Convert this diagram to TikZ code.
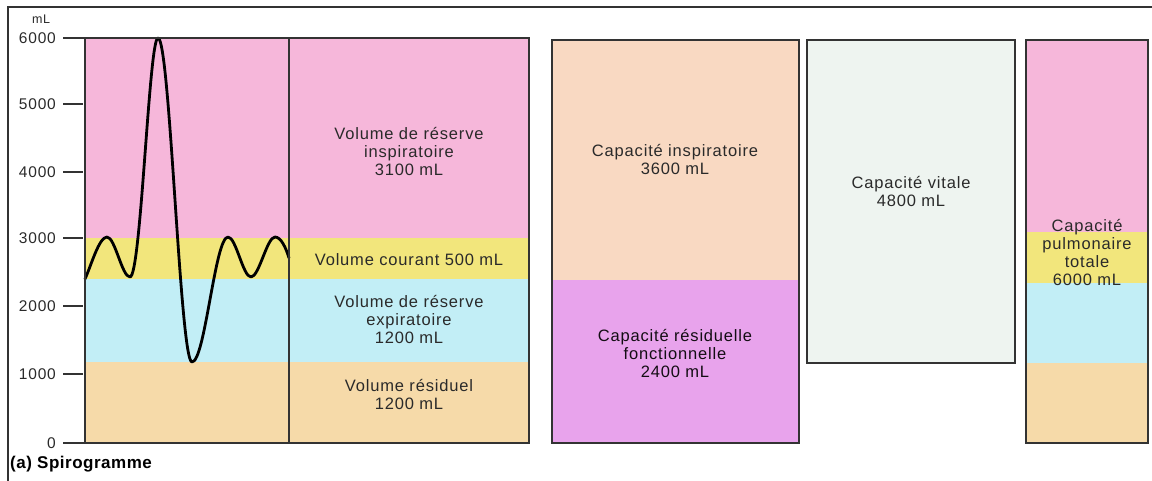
\documentclass[tikz,border=0pt]{standalone}
\usepackage{fontspec}
\setmainfont{Liberation Sans}[LetterSpace=5]
\newfontfamily\titlefont{Liberation Sans}[LetterSpace=3]
\definecolor{pinkc}{HTML}{F6B7DA}
\definecolor{yellowc}{HTML}{F2E67C}
\definecolor{bluec}{HTML}{C2EEF6}
\definecolor{tanc}{HTML}{F6DAA9}
\definecolor{peachc}{HTML}{F9D9C2}
\definecolor{violetc}{HTML}{E8A3EC}
\definecolor{palec}{HTML}{EEF4F0}
\definecolor{inkc}{HTML}{2A2A2A}
\definecolor{boxc}{HTML}{333333}
\tikzset{
  boxline/.style={draw=boxc, line width=1.6pt},
  frameline/.style={draw=boxc, line width=1.4pt},
  tickline/.style={draw=boxc, line width=1.4pt},
  lbl/.style={align=center, text=inkc, inner sep=0pt, font=\fontsize{16.5}{18}\selectfont},
  ticklbl/.style={anchor=east, text=inkc, inner sep=0pt, font=\fontsize{15.5}{17}\selectfont},
  wave/.style={draw=black, line width=2.8pt, line join=round, line cap=round}
}
\begin{document}
\begin{tikzpicture}[x=1pt, y=-1pt]
\useasboundingbox (0,0) rectangle (1152,481);
\fill[white] (0,0) rectangle (1152,481);
% frame
\draw[frameline] (8,481) -- (8,7) -- (1152,7);
% spirogram bands
\fill[pinkc] (85,38) rectangle (529,238);
\fill[yellowc] (85,238) rectangle (529,279);
\fill[bluec] (85,279) rectangle (529,362);
\fill[tanc] (85,362) rectangle (529,443);
% wave
\draw[wave] (85,279) .. controls (91,266) and (99,237) .. (107,237)
  .. controls (115,237) and (122,277) .. (130,277)
  .. controls (141,277) and (149,38) .. (158,38)
  .. controls (170,38) and (180,362) .. (192,362)
  .. controls (205,362) and (215,237) .. (228,237)
  .. controls (236,237) and (243,277) .. (251,277)
  .. controls (259,277) and (267,237) .. (275,237)
  .. controls (281,237) and (286,248) .. (289,258);
\draw[boxline] (85,38) rectangle (529,443);
\draw[boxline] (289,38) -- (289,443);
% axis
\draw[tickline] (63,38) -- (85,38);
\draw[tickline] (63,104) -- (83,104);
\draw[tickline] (63,172) -- (83,172);
\draw[tickline] (63,238) -- (83,238);
\draw[tickline] (63,306) -- (83,306);
\draw[tickline] (63,374) -- (83,374);
\draw[tickline] (63,443) -- (85,443);
\node[ticklbl] (t6) at (56,38) {6000};
\node[ticklbl] (t5) at (56,104) {5000};
\node[ticklbl] (t4) at (56,172) {4000};
\node[ticklbl] (t3) at (56,238) {3000};
\node[ticklbl] (t2) at (56,306) {2000};
\node[ticklbl] (t1) at (56,374) {1000};
\node[ticklbl] (t0) at (56,443) {0};
\node[text=inkc, inner sep=0pt, font=\fontsize{12.5}{14}\selectfont] (unit) at (41,19) {mL};
% spirogram labels
\node[lbl] (vri) at (409,152) {Volume de réserve\\inspiratoire\\3100 mL};
\node[lbl] (vc) at (409,260) {Volume courant 500 mL};
\node[lbl] (vre) at (409,320) {Volume de réserve\\expiratoire\\1200 mL};
\node[lbl] (vr) at (409,395) {Volume résiduel\\1200 mL};
% box 2
\fill[peachc] (552,40) rectangle (799,280);
\fill[violetc] (552,280) rectangle (799,443);
\draw[boxline] (552,40) rectangle (799,443);
\node[lbl] (ci) at (675,160) {Capacité inspiratoire\\3600 mL};
\node[lbl, text=black!80!violetc!40!black] (crf) at (675,354) {Capacité résiduelle\\fonctionnelle\\2400 mL};
% box 3
\fill[palec] (807,40) rectangle (1015,363);
\draw[boxline] (807,40) rectangle (1015,363);
\node[lbl] (cv) at (911,192) {Capacité vitale\\4800 mL};
% box 4
\fill[pinkc] (1026,40) rectangle (1148,232);
\fill[yellowc] (1026,232) rectangle (1148,283);
\fill[bluec] (1026,283) rectangle (1148,363);
\fill[tanc] (1026,363) rectangle (1148,443);
\draw[boxline] (1026,40) rectangle (1148,443);
\node[lbl] (cpt) at (1087,253) {Capacité\\pulmonaire\\totale\\6000 mL};
% caption
\node[anchor=west, inner sep=0pt, text=black, font=\titlefont\bfseries\fontsize{17}{19}\selectfont] (cap) at (10,464) {(a) Spirogramme};
\end{tikzpicture}
\end{document}
